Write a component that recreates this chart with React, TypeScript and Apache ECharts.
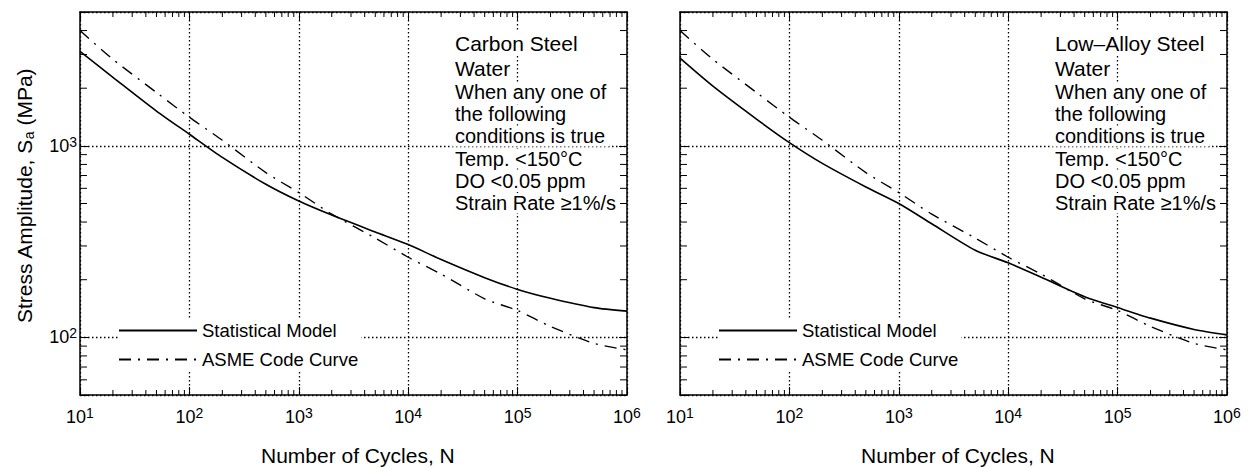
import React, { useEffect, useRef } from 'react';
import * as echarts from 'echarts';

const FONT = '"Liberation Sans", Arial, Helvetica, sans-serif';

// Fatigue life N (cycles) at which each curve is sampled
const cycles = [10, 20, 50, 100, 200, 500, 1000, 2000, 5000, 1e4, 2e4, 5e4, 1e5, 2e5, 5e5, 1e6];
// Stress amplitude Sa (MPa)
const asmeCodeCurve = [4000, 2830, 1900, 1410, 1070, 725, 570, 440, 330, 262, 214, 159, 138, 114, 93, 86];
const carbonSteelModel = [3110, 2280, 1520, 1150, 870, 630, 515, 435, 355, 305, 255, 205, 178, 160, 143, 137];
const lowAlloySteelModel = [2870, 2050, 1380, 1040, 810, 610, 500, 392, 285, 245, 206, 163, 143, 126, 110, 103];

// Axis ranges and minor ticks of the log axes
const xRange = [10, 1e6];
const yRange = [50, 5000];
const xDecades = [10, 100, 1000, 1e4, 1e5];
const minorSteps = [2, 3, 4, 5, 6, 7, 8, 9];
const yMinorTicks = [60, 70, 80, 90, 200, 300, 400, 500, 600, 700, 800, 900, 2000, 3000, 4000];

const seriesNames = ['Statistical Model', 'ASME Code Curve'];
const panelHeadings = [
  ['Carbon Steel', 'Water'],
  ['Low\u2013Alloy Steel', 'Water'],
];
const conditionLines = [
  'When any one of',
  'the following',
  'conditions is true',
  'Temp. <150°C',
  'DO <0.05 ppm',
  'Strain Rate ≥1%/s',
];
const xTitle = 'Number of Cycles, N';

// Layout (pixels)
const panelLeft = [80, 680];
const panelTop = 12;
const panelWidth = 547;
const panelHeight = 383;

const xMinorTicks = xDecades.flatMap((d) => minorSteps.map((m) => d * m));

const isDecade = (v: number) => {
  const l = Math.log10(v);
  return Math.abs(l - Math.round(l)) < 1e-6;
};
const powerLabel = (v: number) => (isDecade(v) ? `{b|10}{e|${Math.round(Math.log10(v))}}` : '');
const powerRich = {
  b: { fontSize: 18, fontFamily: FONT, color: '#000', lineHeight: 22 },
  e: { fontSize: 14, fontFamily: FONT, color: '#000', lineHeight: 14, verticalAlign: 'top' },
};

const axisLine = { show: true, onZero: false, lineStyle: { color: '#000', width: 1.5 } };
const majorTick = { show: true, inside: true, length: 8, lineStyle: { color: '#000', width: 1 } };
const gridDots = { show: true, lineStyle: { color: '#000', width: 1.3, type: [1.5, 2.5] } };

function buildOption() {
  const grid = panelLeft.map((left) => ({ left, top: panelTop, width: panelWidth, height: panelHeight }));

  const xAxis: any[] = [];
  const yAxis: any[] = [];
  // bottom x axes (0,1), then mirrored top axes (2,3)
  [0, 1].forEach((p) =>
    xAxis.push({
      type: 'log', logBase: 10, gridIndex: p, min: xRange[0], max: xRange[1], position: 'bottom',
      axisLine, axisTick: majorTick, splitLine: gridDots,
      axisLabel: { show: true, margin: 11, formatter: powerLabel, rich: powerRich },
    })
  );
  [0, 1].forEach((p) =>
    xAxis.push({
      type: 'log', logBase: 10, gridIndex: p, min: xRange[0], max: xRange[1], position: 'top',
      axisLine, axisTick: majorTick, splitLine: { show: false }, axisLabel: { show: false },
    })
  );
  // left y axes (0,1), then mirrored right axes (2,3)
  [0, 1].forEach((p) =>
    yAxis.push({
      type: 'log', logBase: 10, gridIndex: p, min: yRange[0], max: yRange[1], position: 'left',
      axisLine, axisTick: majorTick, splitLine: gridDots,
      axisLabel: { show: p === 0, margin: 3, formatter: powerLabel, rich: powerRich },
    })
  );
  [0, 1].forEach((p) =>
    yAxis.push({
      type: 'log', logBase: 10, gridIndex: p, min: yRange[0], max: yRange[1], position: 'right',
      axisLine, axisTick: majorTick, splitLine: { show: false }, axisLabel: { show: false },
    })
  );

  const models = [carbonSteelModel, lowAlloySteelModel];
  const series: any[] = [];
  [0, 1].forEach((p) => {
    series.push({
      name: seriesNames[0], type: 'line', xAxisIndex: p, yAxisIndex: p,
      data: cycles.map((n, i) => [n, models[p][i]]),
      symbol: 'none', smooth: 0.25, z: 5,
      lineStyle: { color: '#000', width: 1.6, type: 'solid' },
      itemStyle: { color: '#000' },
    });
    series.push({
      name: seriesNames[1], type: 'line', xAxisIndex: p, yAxisIndex: p,
      data: cycles.map((n, i) => [n, asmeCodeCurve[i]]),
      symbol: 'none', smooth: 0.25, z: 5,
      lineStyle: { color: '#000', width: 1.4, type: [12, 7, 2, 7] },
      itemStyle: { color: '#000' },
    });
    // minor ticks on all four sides of the panel
    series.push({
      type: 'custom', xAxisIndex: p, yAxisIndex: p, silent: true, z: 4,
      data: [...xMinorTicks.map((v) => [v, 100, 0]), ...yMinorTicks.map((v) => [100, v, 1])],
      renderItem: (params: any, api: any) => {
        const cs = params.coordSys;
        const pt = api.coord([api.value(0), api.value(1)]);
        const st = { stroke: '#000', lineWidth: 1 };
        if (api.value(2) === 0) {
          const len = 5;
          return {
            type: 'group',
            children: [
              { type: 'line', shape: { x1: pt[0], y1: cs.y + cs.height, x2: pt[0], y2: cs.y + cs.height - len }, style: st },
              { type: 'line', shape: { x1: pt[0], y1: cs.y, x2: pt[0], y2: cs.y + len }, style: st },
            ],
          };
        }
        const len = 7;
        return {
          type: 'group',
          children: [
            { type: 'line', shape: { x1: cs.x, y1: pt[1], x2: cs.x + len, y2: pt[1] }, style: st },
            { type: 'line', shape: { x1: cs.x + cs.width, y1: pt[1], x2: cs.x + cs.width - len, y2: pt[1] }, style: st },
          ],
        };
      },
    });
  });

  const legend = [0, 1].map((p) => ({
    data: seriesNames,
    orient: 'vertical',
    left: panelLeft[p] + 38,
    top: 319,
    itemWidth: 78,
    itemHeight: 12,
    itemGap: 10,
    padding: [2, 3, 2, 0],
    backgroundColor: '#fff',
    selectedMode: false,
    itemStyle: { color: 'transparent', borderColor: 'transparent', borderWidth: 0 },
    textStyle: { fontSize: 18.5, fontFamily: FONT, color: '#000' },
  }));

  const graphic: any[] = [];
  // y axis title with subscript
  graphic.push({
    type: 'text', x: 24, y: 196, rotation: Math.PI / 2, z: 10,
    style: {
      text: '{n|Stress Amplitude, S}{s|a}{n| (MPa)}',
      align: 'center', verticalAlign: 'middle', fill: '#000',
      rich: {
        n: { fontSize: 21, fontFamily: FONT, fill: '#000', lineHeight: 24 },
        s: { fontSize: 14, fontFamily: FONT, fill: '#000', lineHeight: 14, verticalAlign: 'bottom' },
      },
    },
  });
  [0, 1].forEach((p) => {
    graphic.push({
      type: 'text', x: panelLeft[p] + 181, y: 455, z: 10,
      style: { text: xTitle, font: `21px ${FONT}`, fill: '#000', align: 'left', verticalAlign: 'middle' },
    });
    const tx = panelLeft[p] + 371;
    panelHeadings[p].forEach((t, i) => {
      graphic.push({
        type: 'text', x: tx, y: 43 + 25 * i, z: 10,
        style: {
          text: t, font: `21px ${FONT}`, fill: '#000', align: 'left', verticalAlign: 'middle',
          backgroundColor: '#fff', padding: [1, 4, 1, 4],
        },
      });
    });
    conditionLines.forEach((t, i) => {
      graphic.push({
        type: 'text', x: tx, y: 92 + 22.2 * i, z: 10,
        style: {
          text: t, font: `20px ${FONT}`, fill: '#000', align: 'left', verticalAlign: 'middle',
          backgroundColor: '#fff', padding: [0, 4, 0, 4],
        },
      });
    });
  });

  return {
    animation: false,
    backgroundColor: '#fff',
    grid,
    xAxis,
    yAxis,
    legend,
    series,
    graphic,
  };
}

export default function App() {
  const ref = useRef<HTMLDivElement>(null);
  useEffect(() => {
    if (!ref.current) return;
    const chart = echarts.init(ref.current, undefined, { renderer: 'svg' });
    chart.setOption(buildOption() as any);
    return () => chart.dispose();
  }, []);
  return (
    <div
      ref={ref}
      style={{ position: 'absolute', left: 0, top: 0, width: 1253, height: 468, background: '#fff' }}
    />
  );
}
